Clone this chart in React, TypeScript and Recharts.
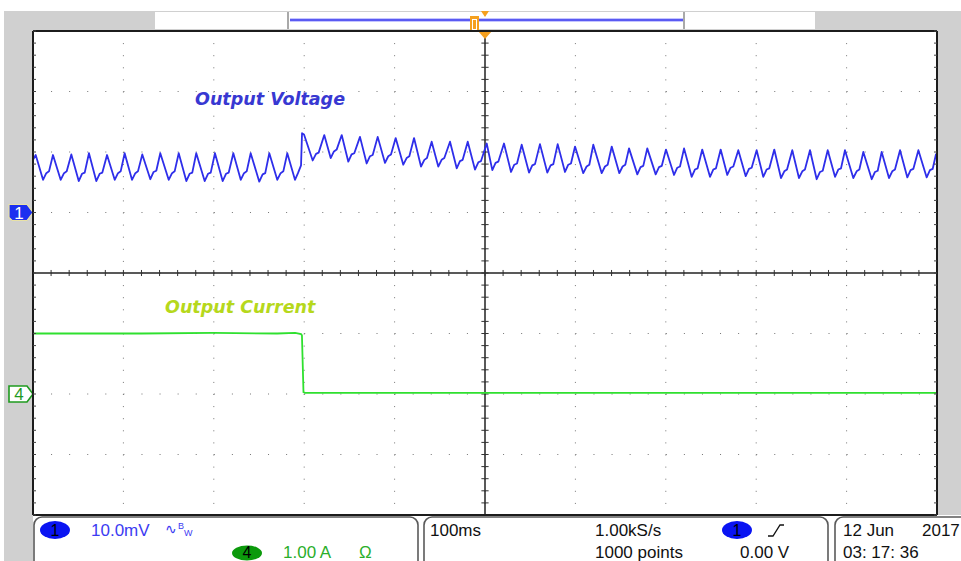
import React from 'react';
import { LineChart, Line, XAxis, YAxis, CartesianGrid, ReferenceLine } from 'recharts';

// ── Scope setup: 100 ms/div, CH1 10.0 mV/div, CH4 1.00 A/div ──

const TIME_TICKS_MS = [0, 100, 200, 300, 400, 500, 600, 700, 800, 900, 1000];
const CH1_TICKS_MV = [-50, -40, -30, -20, -10, 0, 10, 20, 30];
const CH1_DOMAIN_MV: [number, number] = [-50, 30];
const CH4_DOMAIN_A: [number, number] = [-2, 6];
const TRIGGER_MS = 500;
const CENTER_MV = -10;

// minor subdivisions (5 per division)
const TIME_MINOR_MS = Array.from({ length: 51 }, (_, i) => i * 20);
const CH1_MINOR_MV = Array.from({ length: 41 }, (_, i) => -50 + i * 2);

// CH1 output voltage, [time ms, mV] — trough / shoulder / shoulder / peak per ripple cycle
const CH1_TRACE: [number, number][] = [
    [0, 8.7], [3.0, 9.5],
    [11.1, 5.4], [14.7, 6.5], [17.7, 6.8], [22.1, 9.5],
    [30.6, 5.4], [34.3, 6.5], [37.3, 6.8], [42.4, 9.6],
    [50.6, 5.2], [54.2, 6.4], [57.2, 6.6], [61.9, 9.8],
    [70.0, 5.2], [73.7, 6.4], [76.7, 6.6], [81.9, 9.5],
    [90.4, 5.4], [94.0, 6.5], [97.0, 6.8], [101.4, 9.8],
    [109.5, 5.4], [113.2, 6.5], [116.1, 6.8], [120.9, 9.6],
    [129.8, 5.5], [133.4, 6.7], [136.4, 6.9], [140.8, 9.8],
    [150.1, 5.4], [153.8, 6.5], [156.7, 6.8], [161.2, 9.8],
    [169.6, 5.2], [173.2, 6.4], [176.2, 6.6], [180.6, 9.8],
    [189.9, 5.2], [193.6, 6.4], [196.6, 6.6], [201.3, 9.8],
    [209.8, 5.2], [213.5, 6.4], [216.5, 6.6], [221.6, 9.8],
    [229.8, 5.4], [233.4, 6.5], [236.4, 6.8], [240.8, 9.8],
    [250.3, 5.1], [254.0, 6.3], [256.9, 6.5], [261.4, 9.8],
    [270.2, 5.4], [273.9, 6.5], [276.9, 6.8], [281.3, 9.8],
    [289.8, 5.4], [293.1, 6.5], [296.5, 7.8], [297.6, 13.1], [299.8, 12.9],
    [309.4, 8.6], [313.1, 9.7], [316.0, 9.9], [322.2, 12.8],
    [329.3, 9.0], [332.9, 10.1], [335.9, 10.4], [341.5, 12.8],
    [348.8, 8.4], [352.4, 9.6], [355.4, 9.8], [361.7, 12.5],
    [369.1, 8.1], [372.8, 9.3], [375.8, 9.5], [381.3, 12.5],
    [389.4, 8.2], [393.0, 9.3], [396.0, 9.6], [401.2, 12.3],
    [409.6, 7.9], [413.3, 9.0], [416.3, 9.3], [421.5, 12.3],
    [429.2, 7.6], [432.9, 8.7], [435.8, 9.0], [441.0, 11.7],
    [448.3, 7.6], [452.0, 8.7], [455.0, 9.0], [461.3, 11.7],
    [468.7, 7.3], [472.3, 8.5], [475.3, 8.7], [480.9, 11.7],
    [488.9, 7.1], [492.6, 8.3], [495.6, 8.5], [501.9, 11.4],
    [508.1, 7.0], [511.7, 8.2], [514.7, 8.4], [521.0, 11.4],
    [528.8, 6.7], [532.4, 7.9], [535.4, 8.1], [540.6, 11.2],
    [548.7, 6.6], [552.3, 7.8], [555.3, 8.0], [560.8, 11.3],
    [568.9, 6.6], [572.6, 7.8], [575.6, 8.0], [580.4, 11.3],
    [588.5, 6.7], [592.1, 7.9], [595.1, 8.1], [599.6, 10.9],
    [608.7, 6.5], [612.4, 7.6], [615.4, 7.9], [619.8, 11.2],
    [629.1, 6.5], [632.7, 7.6], [635.7, 7.9], [640.2, 10.9],
    [648.6, 6.5], [652.2, 7.6], [655.2, 7.9], [659.3, 10.6],
    [668.5, 6.3], [672.1, 7.5], [675.1, 7.7], [679.5, 10.6],
    [688.8, 6.3], [692.5, 7.5], [695.5, 7.7], [700.2, 10.4],
    [709.1, 6.2], [712.7, 7.4], [715.7, 7.6], [720.2, 10.6],
    [728.6, 5.9], [732.2, 7.1], [735.2, 7.3], [740.3, 10.4],
    [748.9, 5.9], [752.5, 7.1], [755.5, 7.3], [760.7, 10.4],
    [768.0, 6.2], [771.7, 7.4], [774.7, 7.6], [780.2, 10.3],
    [788.4, 6.0], [792.0, 7.2], [795.0, 7.4], [800.5, 10.3],
    [807.8, 5.9], [811.5, 7.1], [814.5, 7.3], [820.0, 10.4],
    [827.4, 5.7], [831.1, 6.8], [834.1, 7.1], [839.9, 10.3],
    [847.3, 5.7], [851.0, 6.8], [853.9, 7.1], [859.5, 10.3],
    [866.9, 5.5], [870.6, 6.7], [873.6, 6.9], [879.1, 10.3],
    [887.2, 5.9], [890.8, 7.1], [893.8, 7.3], [898.2, 10.3],
    [907.4, 5.7], [911.1, 6.8], [914.1, 7.1], [918.5, 10.0],
    [927.8, 5.5], [931.4, 6.7], [934.4, 6.9], [938.8, 10.0],
    [946.9, 5.7], [950.5, 6.8], [953.5, 7.1], [959.1, 10.3],
    [967.2, 5.8], [970.8, 7.0], [973.8, 7.2], [979.4, 10.3],
    [988.6, 5.8], [992.2, 7.0], [995.2, 7.2], [999.0, 9.7],
];

// CH4 output current, [time ms, A]
const CH4_TRACE: [number, number][] = [
    [0, 1.0], [120, 1.0], [200, 1.01], [270, 1.0], [290, 1.01],
    [296.5, 0.99], [297.5, 0.97], [299.2, 0.03], [301, 0.02], [1000, 0.02],
];

// ── Colors ──
const GRAY = '#d0d0d0';
const BORDER = '#1c1c1c';
const GRID = '#757575';
const CH1_COLOR = '#2e2eea';
const CH4_COLOR = '#2fe02f';
const ORANGE = '#f5a01e';
const TXT_BLUE = '#3c3cf2';
const TXT_GREEN = '#2aae2a';
const FONT = '"Liberation Sans", Arial, sans-serif';

function Ch1Marker({ viewBox }: any) {
    const y = viewBox.y;
    const r = viewBox.x;
    return (
        <g>
            <path d={`M${r - 24},${y - 8} H${r - 6} L${r},${y} L${r - 6},${y + 8} H${r - 21} L${r - 24},${y + 5} Z`}
                fill="#1b2ff0" stroke="#e9e2a6" strokeWidth={1.2} />
            <text x={r - 14} y={y + 6} textAnchor="middle" fontFamily={FONT} fontSize={17} fill="#fff">1</text>
        </g>
    );
}

function Ch4Marker({ viewBox }: any) {
    const y = viewBox.y;
    const r = viewBox.x;
    return (
        <g>
            <path d={`M${r - 24},${y - 8} H${r - 6} L${r},${y} L${r - 6},${y + 8} H${r - 24} Z`}
                fill="#fff" stroke="#1f9a1f" strokeWidth={1.6} />
            <text x={r - 14} y={y + 6} textAnchor="middle" fontFamily={FONT} fontSize={17} fill="#1f9a1f">4</text>
        </g>
    );
}

function TriggerMark({ viewBox }: any) {
    const x = viewBox.x;
    const y = viewBox.y;
    return <path d={`M${x - 7},${y} L${x + 7},${y} L${x},${y + 8} Z`} fill={ORANGE} />;
}

function Frame() {
    return (
        <svg width={961} height={561} style={{ position: 'absolute', left: 0, top: 0 }}>
            {/* gray surround */}
            <rect x={4} y={11} width={29} height={550} fill={GRAY} />
            <rect x={4} y={11} width={957} height={20} fill={GRAY} />
            <rect x={937} y={11} width={24} height={504} fill={GRAY} />
            {/* record bar */}
            <rect x={155} y={12} width={660} height={17} fill="#fff" />
            <rect x={287} y={12} width={2} height={17} fill="#a9a9a9" />
            <rect x={683} y={12} width={2} height={17} fill="#a9a9a9" />
            <rect x={290} y={18.5} width={393} height={3} fill="#8c8cff" />
            <rect x={290} y={19.5} width={393} height={1} fill="#2828e6" />
            <rect x={470} y={16} width={9} height={14} fill={ORANGE} />
            <rect x={472.5} y={19.5} width={4} height={10} fill="none" stroke="#fff" strokeWidth={1} />
            <path d="M481,11 L489,11 L485,17 Z" fill={ORANGE} />

            {/* readout boxes */}
            <rect x={34} y={517} width={384} height={60} rx={8} fill="none" stroke="#5a5a5a" strokeWidth={1.6} />
            <rect x={424} y={517} width={404} height={60} rx={8} fill="none" stroke="#5a5a5a" strokeWidth={1.6} />
            <rect x={835} y={517} width={140} height={60} rx={8} fill="none" stroke="#5a5a5a" strokeWidth={1.6} />

            <g fontFamily={FONT} fontSize={17}>
                <ellipse cx={55} cy={530} rx={15} ry={9} fill="#0a14f2" />
                <text x={55} y={536} textAnchor="middle" fill="#000" fontSize={16}>1</text>
                <text x={91} y={536} fill={TXT_BLUE}>10.0mV</text>
                <text x={165} y={534} fill={TXT_BLUE} fontFamily="DejaVu Sans" fontSize={14}>∿</text>
                <text x={178} y={529} fill={TXT_BLUE} fontSize={9}>B</text>
                <text x={184} y={536} fill={TXT_BLUE} fontSize={9}>W</text>

                <ellipse cx={247} cy={553} rx={15} ry={7.5} fill="#0c9a0c" />
                <text x={247} y={558} textAnchor="middle" fill="#000" fontSize={16}>4</text>
                <text x={283} y={558} fill={TXT_GREEN}>1.00 A</text>
                <text x={359} y={558} fill={TXT_GREEN}>Ω</text>

                <text x={430} y={536} fill="#111">100ms</text>
                <text x={595} y={536} fill="#111">1.00kS/s</text>
                <text x={595} y={558} fill="#111">1000 points</text>
                <ellipse cx={737} cy={530} rx={15} ry={9} fill="#0a14f2" />
                <text x={737} y={536} textAnchor="middle" fill="#000" fontSize={16}>1</text>
                <path d="M768,536 L773,536 L780,525 L784,525" fill="none" stroke="#111" strokeWidth={1.3} />
                <text x={740} y={558} fill="#111">0.00 V</text>

                <text x={843} y={536} fill="#111">12 Jun</text>
                <text x={922} y={536} fill="#111">2017</text>
                <text x={843} y={558} fill="#111">03: 17: 36</text>
            </g>
        </svg>
    );
}

export default function App() {
    const ch1Data = CH1_TRACE.map(([t, mv]) => ({ t, mv }));
    const ch4Data = CH4_TRACE.map(([t, a]) => ({ t, a }));

    return (
        <div style={{ position: 'absolute', left: 0, top: 0, width: 961, height: 561, background: '#fff', overflow: 'hidden' }}>
            <Frame />
            <div style={{ position: 'absolute', left: 0, top: 0 }}>
                <LineChart width={961} height={561} margin={{ top: 31, right: 24, bottom: 46, left: 33 }}>
                    <XAxis xAxisId="t" dataKey="t" type="number" domain={[0, 1000]} ticks={TIME_TICKS_MS} hide allowDataOverflow />
                    <XAxis xAxisId="top" orientation="top" mirror type="number" domain={[0, 1000]} ticks={TIME_MINOR_MS}
                        tickSize={3} tickFormatter={() => ''} axisLine={{ stroke: BORDER, strokeWidth: 2 }} tickLine={{ stroke: '#444' }} allowDataOverflow />
                    <XAxis xAxisId="bottom" orientation="bottom" mirror type="number" domain={[0, 1000]} ticks={TIME_MINOR_MS}
                        tickSize={3} tickFormatter={() => ''} axisLine={{ stroke: BORDER, strokeWidth: 2 }} tickLine={{ stroke: '#444' }} allowDataOverflow />
                    <YAxis yAxisId="v" type="number" domain={CH1_DOMAIN_MV} ticks={CH1_TICKS_MV} hide allowDataOverflow />
                    <YAxis yAxisId="i" type="number" domain={CH4_DOMAIN_A} hide allowDataOverflow />
                    <YAxis yAxisId="left" orientation="left" mirror type="number" domain={CH1_DOMAIN_MV} ticks={CH1_MINOR_MV}
                        tickSize={3} tickFormatter={() => ''} axisLine={{ stroke: BORDER, strokeWidth: 2 }} tickLine={{ stroke: '#444' }} allowDataOverflow />
                    <YAxis yAxisId="right" orientation="right" mirror type="number" domain={CH1_DOMAIN_MV} ticks={CH1_MINOR_MV}
                        tickSize={3} tickFormatter={() => ''} axisLine={{ stroke: BORDER, strokeWidth: 2 }} tickLine={{ stroke: '#444' }} allowDataOverflow />

                    <CartesianGrid xAxisId="t" yAxisId="v" vertical={false} stroke={GRID} strokeDasharray="1 17.08" />
                    <CartesianGrid xAxisId="t" yAxisId="v" horizontal={false} stroke={GRID} strokeDasharray="1 11.1" />

                    {/* centre graticule with minor ticks */}
                    <ReferenceLine xAxisId="t" yAxisId="v" x={TRIGGER_MS} stroke="#222" strokeWidth={1.5} label={(p: any) => <TriggerMark {...p} />} />
                    <ReferenceLine xAxisId="t" yAxisId="v" y={CENTER_MV} stroke="#222" strokeWidth={1.5} />
                    {TIME_MINOR_MS.map(t => (
                        <ReferenceLine key={'ht' + t} xAxisId="t" yAxisId="v" stroke="#333"
                            segment={[{ x: t, y: CENTER_MV - 0.5 }, { x: t, y: CENTER_MV + 0.5 }]} />
                    ))}
                    {CH1_MINOR_MV.map(v => (
                        <ReferenceLine key={'vt' + v} xAxisId="t" yAxisId="v" stroke="#333"
                            segment={[{ x: TRIGGER_MS - 4, y: v }, { x: TRIGGER_MS + 4, y: v }]} />
                    ))}

                    {/* channel ground markers */}
                    <ReferenceLine xAxisId="t" yAxisId="v" y={0} stroke="none" label={(p: any) => <Ch1Marker {...p} />} />
                    <ReferenceLine xAxisId="t" yAxisId="i" y={0} stroke="none" label={(p: any) => <Ch4Marker {...p} />} />

                    <Line xAxisId="t" yAxisId="i" data={ch4Data} dataKey="a" type="linear" stroke={CH4_COLOR}
                        strokeWidth={1.8} dot={false} isAnimationActive={false} />
                    <Line xAxisId="t" yAxisId="v" data={ch1Data} dataKey="mv" type="linear" stroke={CH1_COLOR}
                        strokeWidth={1.8} strokeLinejoin="round" dot={false} isAnimationActive={false} />
                </LineChart>
            </div>
            <svg width={961} height={561} style={{ position: 'absolute', left: 0, top: 0, pointerEvents: 'none' }}>
                <text x={195} y={105} fontFamily="DejaVu Sans" fontWeight="bold" fontStyle="italic" fontSize={17.5} fill="#3838d2">Output Voltage</text>
                <text x={165} y={313} fontFamily="DejaVu Sans" fontWeight="bold" fontStyle="italic" fontSize={17.5} fill="#b6d81c">Output Current</text>
            </svg>
        </div>
    );
}
